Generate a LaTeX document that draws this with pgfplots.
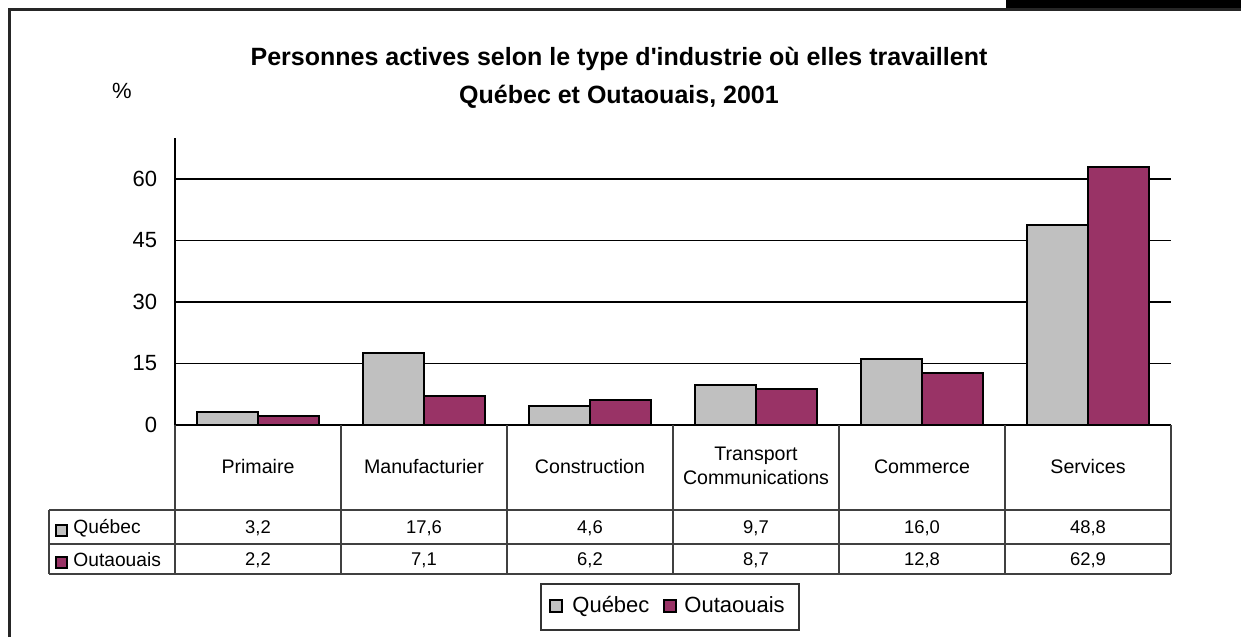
\documentclass[border=0pt]{standalone}
\usepackage{fontspec}
\setmainfont{Liberation Sans}
\usepackage{pgfplots}
\pgfplotsset{compat=1.18}
\definecolor{qgray}{HTML}{C0C0C0}
\definecolor{opurple}{HTML}{993366}
\newcommand{\fs}[1]{\fontsize{#1}{#1}\selectfont}
\begin{document}
\begin{tikzpicture}
\begin{scope}[x=0.5pt,y=0.5pt]
\path[use as bounding box] (0,0) rectangle (1241,637);
\fill[black] (1006,627) rectangle (1241,637);
\draw[line width=1.2pt, black!85] (9.5,0) -- (9.5,627.5) -- (1241,627.5);
\node[anchor=base, font=\fs{12.5}\bfseries, inner sep=0pt] at (619,571.3) {Personnes actives selon le type d\textquotesingle industrie où elles travaillent};
\node[anchor=base, font=\fs{12.5}\bfseries, inner sep=0pt] at (619,533) {Québec et Outaouais, 2001};
\node[anchor=base, font=\fs{11}, inner sep=0pt] at (122,538) {\%};
\end{scope}
\begin{axis}[at={(87.5pt,106pt)}, anchor=south west, scale only axis, width=498pt, height=143.5pt,
 xmin=-0.5, xmax=5.5, ymin=0, ymax=70, xtick=\empty, ytick={0,15,30,45,60},
 axis x line*=bottom, axis y line*=left, axis line style={-, line width=0.6pt},
 ymajorgrids, grid style={black, line width=0.6pt}, major tick length=0pt,
 yticklabel style={font=\fs{11}, inner sep=0pt, anchor=east, xshift=-8.8pt},
 /pgf/number format/assume math mode=true,
 ybar=0pt, bar width=0.37,
 clip=false]
\addplot[fill=qgray, draw=black, line width=1pt] coordinates {(0,3.2) (1,17.6) (2,4.6) (3,9.7) (4,16.0) (5,48.8)};
\addplot[fill=opurple, draw=black, line width=1pt] coordinates {(0,2.2) (1,7.1) (2,6.2) (3,8.7) (4,12.8) (5,62.9)};
\end{axis}
\begin{scope}[x=0.5pt,y=0.5pt]
% data table grid
\begin{scope}[line width=0.6pt, black!75]
\draw (49,127) -- (1171,127);
\draw (49,93) -- (1171,93);
\draw (49,63) -- (1171,63);
\draw (49,127) -- (49,63);
\foreach \xx in {175,341,507,673,839,1005,1171} {\draw (\xx,212) -- (\xx,63);}
\end{scope}
% category names
\begin{scope}[every node/.style={anchor=base, inner sep=0pt, font=\fs{9.8}}]
\node at (258,163.7) {Primaire};
\node at (424,163.7) {Manufacturier};
\node at (590,163.7) {Construction};
\node at (756,176.3) {Transport};
\node at (756,152) {Communications};
\node at (922,163.7) {Commerce};
\node at (1088,163.7) {Services};
\end{scope}
% values
\begin{scope}[every node/.style={anchor=base, inner sep=0pt, font=\fs{9.2}}]
\node at (258,103.7) {3,2};
\node at (424,103.7) {17,6};
\node at (590,103.7) {4,6};
\node at (756,103.7) {9,7};
\node at (922,103.7) {16,0};
\node at (1088,103.7) {48,8};
\node at (258,71.3) {2,2};
\node at (424,71.3) {7,1};
\node at (590,71.3) {6,2};
\node at (756,71.3) {8,7};
\node at (922,71.3) {12,8};
\node at (1088,71.3) {62,9};
\end{scope}
% row legend
\draw[fill=qgray, line width=0.9pt] (56,112) rectangle (67,101);
\draw[fill=opurple, line width=0.9pt] (56,80) rectangle (67,69);
\node[anchor=base west, inner sep=0pt, font=\fs{9.6}] at (73,103.5) {Québec};
\node[anchor=base west, inner sep=0pt, font=\fs{9.6}] at (73,71) {Outaouais};
% bottom legend
\draw[line width=0.7pt, black!80] (541,53) rectangle (799,7);
\draw[fill=qgray, line width=0.9pt] (550,37) rectangle (562,25);
\draw[fill=opurple, line width=0.9pt] (664,37) rectangle (676,25);
\node[anchor=base west, inner sep=0pt, font=\fs{11}] at (572,24.3) {Québec};
\node[anchor=base west, inner sep=0pt, font=\fs{11}] at (684,24.3) {Outaouais};
\end{scope}
\end{tikzpicture}
\end{document}
